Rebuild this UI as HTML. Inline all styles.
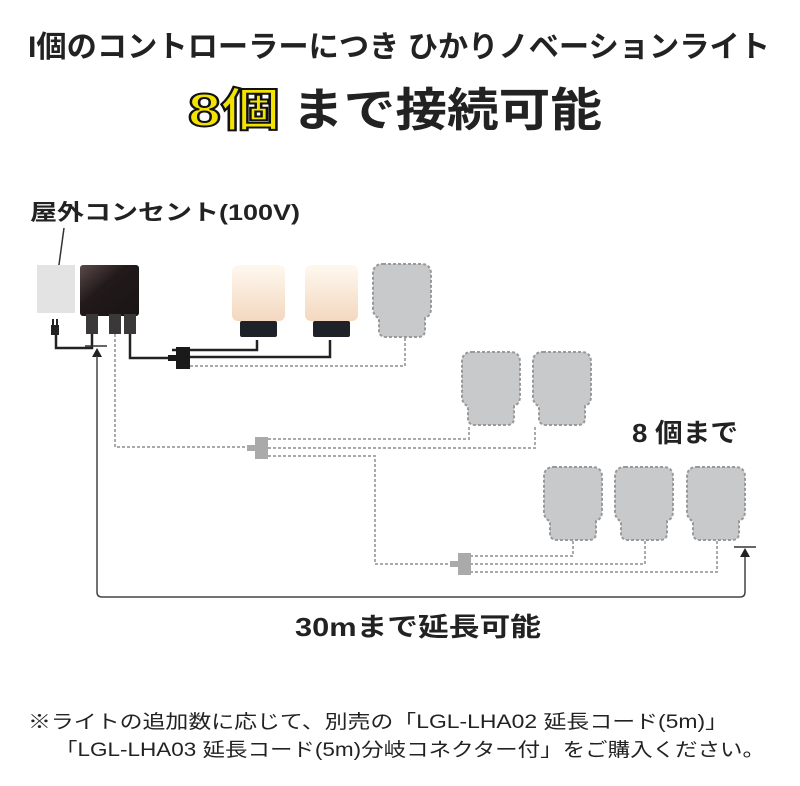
<!DOCTYPE html>
<html><head><meta charset="utf-8"><style>
html,body{margin:0;padding:0;background:#fff;}
svg{display:block;font-family:"Liberation Sans","Noto Sans CJK JP",sans-serif;}
</style></head><body>
<svg width="800" height="786" viewBox="0 0 800 786" xmlns="http://www.w3.org/2000/svg">
<defs>
<path id="g" d="M10,0 H48 Q58,0 58,10 V44 Q58,52 52,54 V66 Q52,73 45,73 H13 Q6,73 6,66 V54 Q0,52 0,44 V10 Q0,0 10,0 Z" fill="#c8c9cb" stroke="#999" stroke-width="2" stroke-dasharray="3,2"/>
<linearGradient id="lw" x1="0" y1="0" x2="0" y2="1"><stop offset="0" stop-color="#fff8f0"/><stop offset="1" stop-color="#f3d8bf"/></linearGradient>
<linearGradient id="cb" x1="0" y1="0" x2="1" y2="1"><stop offset="0" stop-color="#5a4a48"/><stop offset="0.4" stop-color="#221a1a"/><stop offset="1" stop-color="#1a1414"/></linearGradient>
</defs>
<text x="28" y="57" font-size="30" font-weight="bold" fill="#222" textLength="742" lengthAdjust="spacingAndGlyphs">I個のコントローラーにつき ひかりノベーションライト</text>
<text x="188" y="126" font-size="46" font-weight="bold" fill="#f2e400" stroke="#111" stroke-width="2" textLength="92" lengthAdjust="spacingAndGlyphs">8個</text>
<text x="292" y="126" font-size="46" font-weight="bold" fill="#222" textLength="310" lengthAdjust="spacingAndGlyphs">まで接続可能</text>
<text x="30" y="220" font-size="22" font-weight="bold" fill="#222" textLength="270" lengthAdjust="spacingAndGlyphs">屋外コンセント(100V)</text>
<line x1="64" y1="228" x2="58" y2="272" stroke="#333" stroke-width="1.5"/>
<!-- outlet -->
<rect x="37" y="265" width="38" height="48" fill="#e3e3e3"/>
<!-- controller -->
<rect x="80" y="265" width="59" height="51" rx="3" fill="url(#cb)"/>
<rect x="86" y="314" width="12" height="20" fill="#3a3838"/>
<rect x="109" y="314" width="12" height="20" fill="#3a3838"/>
<rect x="124" y="314" width="12" height="20" fill="#3a3838"/>
<!-- plug -->
<rect x="51" y="325" width="8" height="10" fill="#222"/>
<rect x="52" y="319" width="2" height="6" fill="#222"/><rect x="56" y="319" width="2" height="6" fill="#222"/>
<path d="M56,335 V348 H92 V334" fill="none" stroke="#222" stroke-width="2.5"/>
<!-- black wire -->
<path d="M130,334 V358 H172" fill="none" stroke="#222" stroke-width="2.5"/>
<path d="M172,350 H257 V340" fill="none" stroke="#222" stroke-width="2.5"/>
<path d="M172,357 H330 V340" fill="none" stroke="#222" stroke-width="2.5"/>
<rect x="176" y="347" width="14" height="22" fill="#1a1a1a"/>
<rect x="168" y="355" width="10" height="6" fill="#1a1a1a"/>
<path d="M190,366 H405 V338" fill="none" stroke="#aaa" stroke-width="2" stroke-dasharray="3,2"/>
<!-- lamps -->
<rect x="232" y="265" width="53" height="56" rx="6" fill="url(#lw)"/>
<rect x="240" y="321" width="37" height="16" rx="2" fill="#1e2228"/>
<rect x="305" y="265" width="53" height="56" rx="6" fill="url(#lw)"/>
<rect x="313" y="321" width="37" height="16" rx="2" fill="#1e2228"/>
<use href="#g" x="373" y="264"/>
<!-- middle dashed -->
<path d="M115,334 V447 H255" fill="none" stroke="#aaa" stroke-width="2" stroke-dasharray="3,2"/>
<path d="M268,439 H469 V425" fill="none" stroke="#aaa" stroke-width="2" stroke-dasharray="3,2"/>
<path d="M268,448 H535 V425" fill="none" stroke="#aaa" stroke-width="2" stroke-dasharray="3,2"/>
<path d="M268,456 H375 V564 H455" fill="none" stroke="#aaa" stroke-width="2" stroke-dasharray="3,2"/>
<rect x="255" y="437" width="13" height="22" fill="#aaa"/>
<rect x="247" y="445" width="10" height="6" fill="#aaa"/>
<use href="#g" x="462" y="352"/>
<use href="#g" x="533" y="352"/>
<!-- bottom -->
<path d="M470,556 H573 V540" fill="none" stroke="#aaa" stroke-width="2" stroke-dasharray="3,2"/>
<path d="M470,564 H645 V540" fill="none" stroke="#aaa" stroke-width="2" stroke-dasharray="3,2"/>
<path d="M470,572 H717 V540" fill="none" stroke="#aaa" stroke-width="2" stroke-dasharray="3,2"/>
<rect x="458" y="553" width="13" height="22" fill="#aaa"/>
<rect x="450" y="561" width="10" height="6" fill="#aaa"/>
<use href="#g" x="544" y="467"/>
<use href="#g" x="615" y="467"/>
<use href="#g" x="687" y="467"/>
<text x="632" y="442" font-size="26" font-weight="bold" fill="#222" textLength="106" lengthAdjust="spacingAndGlyphs">8 個まで</text>
<!-- arrow -->
<line x1="85" y1="346" x2="107" y2="346" stroke="#333" stroke-width="1.5"/>
<polygon points="97,348 92,357 102,357" fill="#222"/>
<path d="M97,356 V592 Q97,597 102,597 H740 Q745,597 745,592 V556" fill="none" stroke="#444" stroke-width="1.5"/>
<polygon points="745,548 740,557 750,557" fill="#222"/>
<line x1="734" y1="547" x2="756" y2="547" stroke="#333" stroke-width="1.5"/>
<text x="295" y="636" font-size="26" font-weight="bold" fill="#222" textLength="246" lengthAdjust="spacingAndGlyphs">30mまで延長可能</text>
<text x="28" y="728" font-size="19" fill="#222" textLength="700" lengthAdjust="spacingAndGlyphs">※ライトの追加数に応じて、別売の「LGL-LHA02 延長コード(5m)」</text>
<text x="55" y="756" font-size="19" fill="#222" textLength="710" lengthAdjust="spacingAndGlyphs">「LGL-LHA03 延長コード(5m)分岐コネクター付」をご購入ください。</text>
</svg>
</body></html>
